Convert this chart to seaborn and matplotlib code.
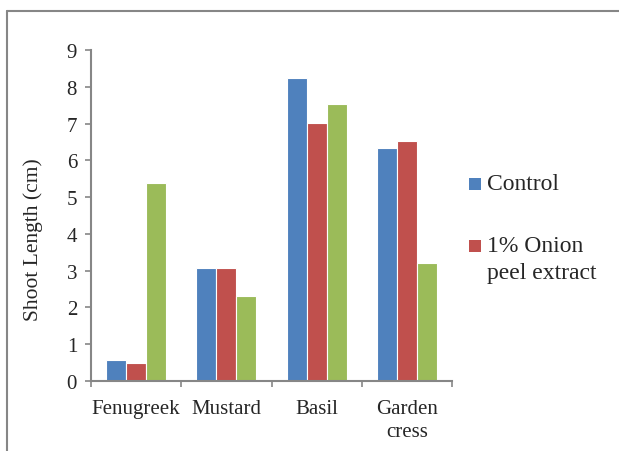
import matplotlib
matplotlib.use("Agg")
import matplotlib.pyplot as plt
from matplotlib.lines import Line2D
from matplotlib.patches import Rectangle
import seaborn as sns
import pandas as pd

# datos
plants = ["Fenugreek", "Mustard", "Basil", "Garden cress"]
tick_labels = ["Fenugreek", "Mustard", "Basil", "Garden\ncress"]
treatments = ["Control", "1% Onion peel extract", "Series 3"]
control = [0.58, 3.07, 8.23, 6.33]
onion_1 = [0.49, 3.07, 7.01, 6.53]
series_3 = [5.39, 2.32, 7.53, 3.21]
colors = ["#4F81BD", "#C0504D", "#9BBB59"]

rows = []
for name, values in zip(treatments, [control, onion_1, series_3]):
    for plant, v in zip(plants, values):
        rows.append({"plant": plant, "treatment": name, "length": v})
df = pd.DataFrame(rows)

sns.set_style("ticks")
plt.rcParams["font.family"] = "serif"
plt.rcParams["font.serif"] = ["Liberation Serif", "Times New Roman", "DejaVu Serif"]

fig = plt.figure(figsize=(6.19, 4.52), dpi=100)
ax = fig.add_axes([91 / 619, 1 - 382 / 452, (452 - 91) / 619, (382 - 51) / 452])

sns.barplot(data=df, x="plant", y="length", hue="treatment",
            order=plants, hue_order=treatments, palette=colors,
            saturation=1, width=0.667, edgecolor="white", linewidth=0.8,
            legend=False, ax=ax)

grey = "#868686"
ax.set_xlim(-0.5, 3.5)
ax.set_ylim(0, 9)
ax.set_yticks(range(0, 10))
ax.set_xticks(range(4))
ax.set_xticklabels(tick_labels, linespacing=1.25)
ax.set_xticks([-0.5, 0.5, 1.5, 2.5, 3.5], minor=True)
ax.tick_params(axis="x", which="major", length=0, pad=13, labelsize=15)
ax.tick_params(axis="x", which="minor", length=4, width=1.2, color=grey, direction="out")
ax.tick_params(axis="y", length=4, width=1.2, color=grey, pad=6, labelsize=15)
ax.set_xlabel("")
ax.set_ylabel("Shoot Length (cm)", fontsize=15.5)
ax.yaxis.set_label_coords(-0.133, 0.43)
sns.despine(ax=ax)
for s in ["left", "bottom"]:
    ax.spines[s].set_color(grey)
    ax.spines[s].set_linewidth(1.5)

# leyenda (solo dos entradas como en el original)
W, H = 619, 452
legend_items = [("Control", 185, ["Control"]),
                ("1% Onion peel extract", 247, ["1% Onion", "peel extract"])]
for i, (name, yc, lines) in enumerate(legend_items):
    fig.add_artist(Rectangle((469 / W, 1 - (yc + 6) / H), 12 / W, 12 / H,
                             transform=fig.transFigure, facecolor=colors[i],
                             edgecolor="none"))
    for j, line in enumerate(lines):
        fig.text(487 / W, 1 - (yc + 26 * j) / H, line, fontsize=17,
                 va="center", ha="left")

# marco exterior recortado
fig.add_artist(Line2D([7 / W, 7 / W], [-0.1, 1 - 12 / H], transform=fig.transFigure,
                      color=grey, linewidth=1.5))
fig.add_artist(Line2D([7 / W, 1.1], [1 - 12 / H, 1 - 12 / H], transform=fig.transFigure,
                      color=grey, linewidth=1.5))

fig.savefig("out.png", dpi=100, facecolor="white")
